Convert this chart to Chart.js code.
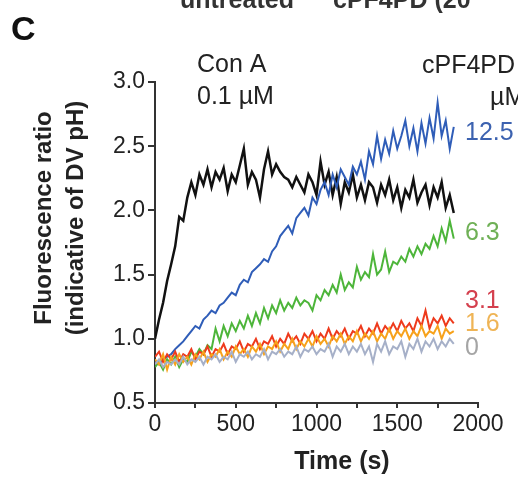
<!DOCTYPE html>
<html>
<head>
<meta charset="utf-8">
<script src="https://cdn.jsdelivr.net/npm/chart.js@4.4.1/dist/chart.umd.min.js"></script>
<style>
  html, body { margin: 0; padding: 0; background: #fff; }
  #c { display: block; }
</style>
</head>
<body>
<canvas id="c" width="518" height="479"></canvas>
<script>
// time (s)
var times = [0,25,50,75,100,125,150,175,200,225,250,275,300,325,350,375,400,425,450,475,
  500,525,550,575,600,625,650,675,700,725,750,775,800,825,850,875,900,925,950,975,
  1000,1025,1050,1075,1100,1125,1150,1175,1200,1225,1250,1275,1300,1325,1350,1375,
  1400,1425,1450,1475,1500,1525,1550,1575,1600,1625,1650,1675,1700,1725,1750,1775,
  1800,1825,1850];

// fluorescence ratio, Con A 0.1 uM
var conA = [1.00,1.15,1.28,1.45,1.58,1.72,1.95,1.92,2.10,2.22,2.12,2.28,2.20,2.32,2.18,2.30,2.24,2.33,2.15,2.28,
  2.22,2.35,2.48,2.20,2.30,2.24,2.10,2.32,2.46,2.28,2.36,2.30,2.26,2.24,2.18,2.26,2.20,2.14,2.28,2.22,
  2.12,2.38,2.20,2.30,2.12,2.26,2.05,2.22,2.14,2.28,2.10,2.20,2.08,2.22,2.18,2.06,
  2.20,2.12,2.24,2.08,2.18,2.02,2.16,2.10,2.24,2.06,2.14,2.20,2.04,2.18,2.10,2.22,
  2.02,2.12,1.98];

// cPF4PD 12.5 uM
var pd125 = [0.82,0.80,0.84,0.86,0.88,0.92,0.95,0.98,1.02,1.06,1.10,1.08,1.15,1.18,1.22,1.20,1.26,1.28,1.32,1.36,
  1.34,1.42,1.46,1.44,1.52,1.55,1.58,1.62,1.60,1.68,1.72,1.80,1.84,1.88,1.82,1.94,1.98,2.02,1.96,2.10,
  2.05,2.16,2.22,2.12,2.28,2.18,2.32,2.26,2.20,2.34,2.28,2.38,2.24,2.46,2.36,2.58,
  2.40,2.55,2.44,2.62,2.48,2.58,2.70,2.50,2.64,2.46,2.68,2.52,2.72,2.56,2.84,2.58,
  2.70,2.48,2.65];

// cPF4PD 6.3 uM
var pd63 = [0.78,0.82,0.76,0.84,0.80,0.86,0.78,0.84,0.82,0.90,0.86,0.92,0.88,0.95,0.92,1.08,0.98,1.10,1.02,1.12,
  1.06,1.14,1.08,1.18,1.10,1.20,1.12,1.24,1.16,1.26,1.20,1.30,1.22,1.28,1.24,1.32,1.26,1.30,1.28,1.22,
  1.34,1.30,1.38,1.34,1.42,1.36,1.50,1.38,1.44,1.40,1.56,1.46,1.52,1.48,1.66,1.50,
  1.54,1.68,1.52,1.60,1.58,1.64,1.60,1.70,1.64,1.72,1.66,1.74,1.70,1.80,1.72,1.86,
  1.76,1.92,1.78];

// cPF4PD 3.1 uM
var pd31 = [0.86,0.90,0.82,0.88,0.84,0.90,0.82,0.88,0.86,0.92,0.84,0.90,0.88,0.94,0.86,0.92,0.90,0.96,0.88,0.94,
  0.92,0.98,0.90,0.96,0.94,1.00,0.92,0.98,0.96,1.02,0.94,1.00,0.96,1.04,0.98,1.02,0.96,1.04,1.00,1.06,
  0.98,1.04,1.00,1.08,1.00,1.06,1.02,1.08,1.00,1.06,1.04,1.10,1.02,1.08,1.04,1.12,
  1.04,1.10,1.06,1.12,1.06,1.14,1.08,1.12,1.06,1.16,1.10,1.22,1.08,1.16,1.12,1.18,
  1.10,1.16,1.12];

// cPF4PD 1.6 uM
var pd16 = [0.84,0.80,0.88,0.76,0.86,0.80,0.88,0.82,0.86,0.80,0.88,0.84,0.90,0.82,0.88,0.86,0.92,0.84,0.90,0.86,
  0.94,0.88,0.92,0.86,0.94,0.90,0.96,0.88,0.94,0.92,0.98,0.90,0.96,0.92,1.00,0.92,0.98,0.94,1.00,0.94,
  1.02,0.96,1.00,0.94,1.02,0.98,1.04,0.96,1.02,0.98,1.06,0.98,1.04,1.00,1.06,0.98,
  1.04,1.00,1.08,1.00,1.06,1.02,1.08,1.00,1.06,1.02,1.10,1.02,1.06,1.04,1.10,1.00,
  1.08,1.04,1.06];

// cPF4PD 0 uM
var pd0 = [0.80,0.84,0.78,0.82,0.80,0.84,0.80,0.86,0.80,0.84,0.82,0.86,0.80,0.86,0.84,0.88,0.82,0.86,0.84,0.90,
  0.82,0.88,0.86,0.90,0.84,0.88,0.86,0.92,0.84,0.90,0.88,0.92,0.86,0.90,0.88,0.94,0.86,0.92,0.90,0.94,
  0.88,0.92,0.90,0.96,0.86,0.94,0.90,0.96,0.88,0.94,0.90,0.96,0.88,0.94,0.82,0.96,
  0.90,0.98,0.88,0.94,0.92,0.98,0.86,0.96,0.92,1.00,0.90,0.98,0.94,1.00,0.92,0.98,
  0.94,1.00,0.96];

var xTicks = [0, 500, 1000, 1500, 2000];
var yTicks = [0.5, 1.0, 1.5, 2.0, 2.5, 3.0];

var FONT = '"Liberation Sans", Arial, sans-serif';

function pts(arr) {
  var out = [];
  for (var i = 0; i < arr.length; i++) out.push({x: times[i], y: arr[i]});
  return out;
}

function line(label, arr, color, w) {
  return {
    label: label,
    data: pts(arr),
    borderColor: color,
    backgroundColor: color,
    borderWidth: w,
    pointRadius: 0,
    tension: 0,
    fill: false
  };
}

// text that is not part of the axes
var labelsPlugin = {
  id: 'labels',
  afterDraw: function(chart) {
    var ctx = chart.ctx;
    ctx.save();
    ctx.textAlign = 'left';

    // cut-off header from the panel above
    ctx.fillStyle = '#333';
    ctx.font = 'bold 25px ' + FONT;
    ctx.textBaseline = 'alphabetic';
    ctx.fillText('untreated', 180, 8);
    ctx.fillText('cPF4PD (20', 333, 8);
    ctx.textBaseline = 'middle';

    // panel letter
    ctx.fillStyle = '#111';
    ctx.font = 'bold 34px ' + FONT;
    ctx.fillText('C', 11, 31);

    ctx.font = '25px ' + FONT;
    ctx.fillStyle = '#222';
    ctx.fillText('Con A', 197, 65);
    ctx.fillText('0.1 \u00b5M', 197, 97);
    ctx.fillText('cPF4PD', 422, 66);
    ctx.fillText('\u00b5M', 490, 98);

    ctx.fillStyle = '#3c62b0'; ctx.fillText('12.5', 465, 133);
    ctx.fillStyle = '#6fb056'; ctx.fillText('6.3', 465, 233);
    ctx.fillStyle = '#d4404e'; ctx.fillText('3.1', 465, 301);
    ctx.fillStyle = '#efb455'; ctx.fillText('1.6', 465, 324);
    ctx.fillStyle = '#a5a5a5'; ctx.fillText('0', 465, 348);

    // y axis title
    ctx.fillStyle = '#222';
    ctx.font = 'bold 24px ' + FONT;
    ctx.textAlign = 'center';
    ctx.translate(44, 218);
    ctx.rotate(-Math.PI / 2);
    ctx.fillText('Fluorescence ratio', 0, 0);
    ctx.fillText('(indicative of DV pH)', 0, 32);
    ctx.restore();

    // x axis title
    ctx.save();
    ctx.fillStyle = '#222';
    ctx.font = 'bold 25px ' + FONT;
    ctx.textAlign = 'center';
    ctx.textBaseline = 'middle';
    ctx.fillText('Time (s)', 342, 462);
    ctx.restore();
  }
};

var config = {
  type: 'line',
  data: {
    datasets: [
      line('0', pd0, '#a6b0c8', 2),
      line('1.6', pd16, '#f7a21b', 2),
      line('3.1', pd31, '#ee3a1c', 2),
      line('6.3', pd63, '#4db53a', 2),
      line('12.5', pd125, '#2f5db8', 2),
      line('Con A', conA, '#111111', 2.5)
    ]
  },
  options: {
    responsive: false,
    animation: false,
    layout: { padding: { left: 0, top: 82, right: 40, bottom: 0 } },
    plugins: {
      legend: { display: false },
      tooltip: { enabled: false }
    },
    scales: {
      x: {
        type: 'linear',
        min: 0,
        max: 2000,
        afterFit: function(s) { s.height = 76; },
        afterBuildTicks: function(s) {
          var t = [];
          for (var v = 0; v <= 2000; v += 250) t.push({value: v});
          s.ticks = t;
        },
        ticks: {
          autoSkip: false,
          maxRotation: 0,
          padding: 3,
          color: '#222',
          font: { family: FONT, size: 23 },
          callback: function(v) { return xTicks.indexOf(v) >= 0 ? String(v) : ''; }
        },
        grid: { display: true, drawOnChartArea: false, drawTicks: true, tickLength: 5, color: '#333', lineWidth: 2 },
        border: { display: true, color: '#333', width: 2 }
      },
      y: {
        min: 0.5,
        max: 3.0,
        afterFit: function(s) { s.width = 155; },
        afterBuildTicks: function(s) {
          s.ticks = yTicks.map(function(v) { return {value: v}; });
        },
        ticks: {
          padding: 3,
          color: '#222',
          font: { family: FONT, size: 23 },
          callback: function(v) { return v.toFixed(1); }
        },
        grid: { display: true, drawOnChartArea: false, drawTicks: true, tickLength: 7, color: '#333', lineWidth: 2 },
        border: { display: true, color: '#333', width: 2 }
      }
    }
  },
  plugins: [labelsPlugin]
};

var myChart = new Chart(document.getElementById('c'), config);
</script>
</body>
</html>
